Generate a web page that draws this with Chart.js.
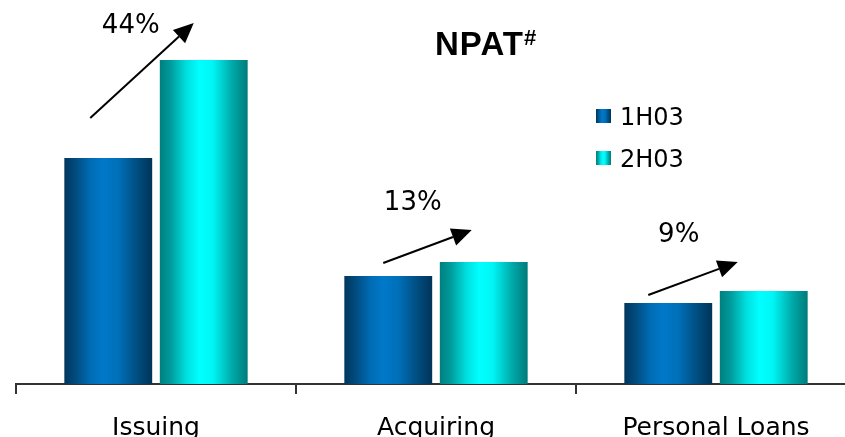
<!DOCTYPE html>
<html>
<head>
<meta charset="utf-8">
<script src="https://cdn.jsdelivr.net/npm/chart.js@4.4.0/dist/chart.umd.min.js"></script>
<style>
  html, body { margin: 0; padding: 0; background: #fff; overflow: hidden; }
  #wrap { position: relative; width: 845px; height: 437px; overflow: hidden; }
  #npatChart { position: absolute; left: 0; top: 0; }
</style>
</head>
<body>
<div id="wrap"><canvas id="npatChart" width="856" height="462"></canvas></div>
<script>
// Data (no axis in the original, so units are arbitrary)
const categories = ["Issuing", "Acquiring", "Personal Loans"];
const seriesNames = ["1H03", "2H03"];
const npat1H03 = [22.6, 10.8, 8.1];
const npat2H03 = [32.4, 12.2, 9.3];
const growthLabels = ["44%", "13%", "9%"];

const CAT_PCT = 0.682;
const BAR_PCT = 0.92;
const TEXT_FONT = "'DejaVu Sans', Verdana, sans-serif";
const TITLE_FONT = "'Liberation Sans', Arial, sans-serif";

// cylinder-like shading for each series
const shadeStops = [
  [[0, "#00365c"], [0.12, "#014a7c"], [0.3, "#006cb6"], [0.45, "#0079c9"], [0.62, "#006fb8"], [0.85, "#014a7a"], [1, "#01345a"]],
  [[0, "#007f7f"], [0.12, "#009a9a"], [0.3, "#00dede"], [0.45, "#00ffff"], [0.6, "#00f6f6"], [0.82, "#00aaaa"], [1, "#007b7b"]],
];
const flatColors = ["#0070b8", "#00e0e0"];

// arrow geometry, in px relative to the top centre of each bar
const arrowShapes = [
  { from: [-18, -40], to: [-10, -37], text: [-63, 10] },
  { from: [-5, -13], to: [-12, -32], text: [-59, -20] },
  { from: [-20, -8], to: [-26, -29], text: [-59, -20] },
];

function makeGradient(ctx, left, right, stops) {
  const g = ctx.createLinearGradient(left, 0, right, 0);
  stops.forEach(([p, c]) => g.addColorStop(p, c));
  return g;
}

function shadeFor(seriesIndex) {
  return (context) => {
    const chart = context.chart;
    const xScale = chart.scales.x;
    if (!xScale || context.dataIndex === undefined || !xScale.width) {
      return flatColors[seriesIndex];
    }
    const catWidth = xScale.width / categories.length;
    const seg = (catWidth * CAT_PCT) / 2;
    const w = seg * BAR_PCT;
    const cx = xScale.getPixelForValue(context.dataIndex) + (seriesIndex - 0.5) * seg;
    return makeGradient(chart.ctx, cx - w / 2, cx + w / 2, shadeStops[seriesIndex]);
  };
}

function drawArrow(ctx, x1, y1, x2, y2) {
  const ang = Math.atan2(y2 - y1, x2 - x1);
  const headLen = 20;
  const headHalf = 9;
  const bx = x2 - headLen * Math.cos(ang);
  const by = y2 - headLen * Math.sin(ang);
  ctx.strokeStyle = "#000";
  ctx.lineWidth = 2;
  ctx.beginPath();
  ctx.moveTo(x1, y1);
  ctx.lineTo(bx, by);
  ctx.stroke();
  ctx.fillStyle = "#000";
  ctx.beginPath();
  ctx.moveTo(x2, y2);
  ctx.lineTo(bx + headHalf * Math.sin(ang), by - headHalf * Math.cos(ang));
  ctx.lineTo(bx - headHalf * Math.sin(ang), by + headHalf * Math.cos(ang));
  ctx.closePath();
  ctx.fill();
}

const overlayPlugin = {
  id: "npatOverlay",
  afterDatasetsDraw(chart) {
    const ctx = chart.ctx;
    const bars0 = chart.getDatasetMeta(0).data;
    const bars1 = chart.getDatasetMeta(1).data;
    ctx.save();

    // growth arrows + labels
    arrowShapes.forEach((a, i) => {
      const x1 = bars0[i].x + a.from[0];
      const y1 = bars0[i].y + a.from[1];
      const x2 = bars1[i].x + a.to[0];
      const y2 = bars1[i].y + a.to[1];
      drawArrow(ctx, x1, y1, x2, y2);
      ctx.font = "26px " + TEXT_FONT;
      ctx.fillStyle = "#000";
      ctx.textAlign = "center";
      ctx.textBaseline = "alphabetic";
      ctx.fillText(growthLabels[i], x2 + a.text[0], y2 + a.text[1]);
    });

    // title
    ctx.textAlign = "left";
    ctx.textBaseline = "alphabetic";
    ctx.fillStyle = "#000";
    ctx.font = "bold 33px " + TITLE_FONT;
    ctx.letterSpacing = "1px";
    ctx.fillText("NPAT", 435, 55);
    const tw = ctx.measureText("NPAT").width;
    ctx.letterSpacing = "0px";
    ctx.font = "bold 22px " + TITLE_FONT;
    ctx.fillText("#", 435 + tw, 45);

    // legend
    seriesNames.forEach((name, i) => {
      const bx = 596;
      const by = 109 + i * 42;
      ctx.fillStyle = makeGradient(ctx, bx, bx + 15, shadeStops[i]);
      ctx.fillRect(bx, by, 15, 14);
      ctx.fillStyle = "#000";
      ctx.font = "24px " + TEXT_FONT;
      ctx.fillText(name, 620, by + 16);
    });

    ctx.restore();
  },
};

const chartCtx = document.getElementById("npatChart").getContext("2d");
new Chart(chartCtx, {
  type: "bar",
  data: {
    labels: categories,
    datasets: [
      {
        label: seriesNames[0],
        data: npat1H03,
        backgroundColor: shadeFor(0),
        borderWidth: 0,
      },
      {
        label: seriesNames[1],
        data: npat2H03,
        backgroundColor: shadeFor(1),
        borderWidth: 0,
      },
    ],
  },
  options: {
    responsive: false,
    animation: false,
    categoryPercentage: CAT_PCT,
    barPercentage: BAR_PCT,
    layout: { padding: { left: 16, right: 0, top: 0, bottom: 0 } },
    scales: {
      x: {
        grid: {
          display: true,
          drawOnChartArea: false,
          drawTicks: true,
          tickLength: 10,
          color: "#333",
          lineWidth: 2,
          offset: true,
        },
        border: { display: true, color: "#333", width: 2 },
        ticks: {
          color: "#000",
          font: { family: TEXT_FONT, size: 25 },
          padding: 19,
          maxRotation: 0,
          autoSkip: false,
        },
      },
      y: {
        display: false,
        min: 0,
        max: 38.4,
      },
    },
    plugins: {
      legend: { display: false },
      tooltip: { enabled: false },
    },
  },
  plugins: [overlayPlugin],
});
</script>
</body>
</html>
